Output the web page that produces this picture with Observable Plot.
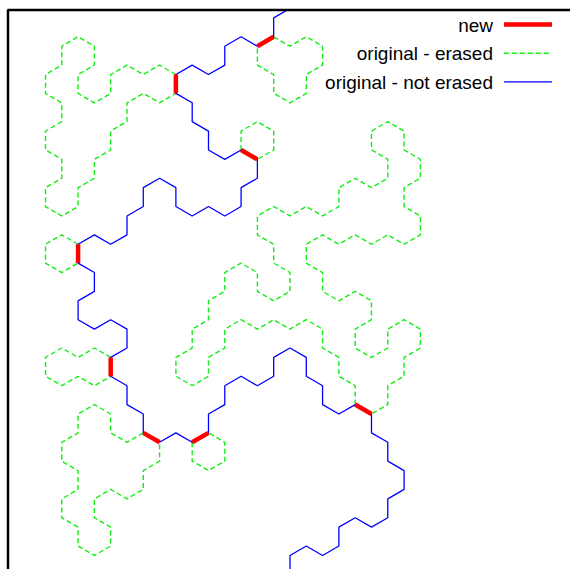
<!DOCTYPE html>
<html>
<head>
<meta charset="utf-8">
<script src="https://cdn.jsdelivr.net/npm/d3@7"></script>
<script src="https://cdn.jsdelivr.net/npm/@observablehq/plot@0.6"></script>
<style>
  html, body { margin: 0; padding: 0; background: #fff; }
  #wrap { position: relative; width: 570px; height: 569px; overflow: hidden; }
  #legend { position: absolute; left: 0; top: 0; pointer-events: none; }
</style>
</head>
<body>
<div id="wrap"></div>
<script>
// Honeycomb lattice coordinates: X = half hexagon width, Y = half edge length.
// New walk (blue, with new red edges inside it)
const newWalk = [[15,-3],[14,-2],[14,0],[13,1],[12,0],[11,1],[11,3],[10,4],[9,3],[8,4],[8,6],[9,7],[9,9],[10,10],[10,12],[11,13],[12,12],[13,13],[13,15],[12,16],[12,18],[11,19],[10,18],[9,19],[8,18],[8,16],[7,15],[6,16],[6,18],[5,19],[5,21],[4,22],[3,21],[2,22],[2,24],[3,25],[3,27],[2,28],[2,30],[3,31],[4,30],[5,31],[5,33],[4,34],[4,36],[5,37],[5,39],[6,40],[6,42],[7,43],[8,42],[9,43],[10,42],[10,40],[11,39],[11,37],[12,36],[13,37],[14,36],[14,34],[15,33],[16,34],[16,36],[17,37],[17,39],[18,40],[19,39],[20,40],[20,42],[21,43],[21,45],[22,46],[22,48],[21,49],[21,51],[20,52],[19,51],[18,52],[18,54],[17,55],[16,54],[15,55],[15,57]];

// New edges (red)
const newEdges = [[[14,0],[13,1]],[[8,4],[8,6]],[[12,12],[13,13]],[[2,22],[2,24]],[[4,34],[4,36]],[[6,42],[7,43]],[[9,43],[10,42]],[[19,39],[20,40]]];

// Erased loops of the original walk (green dashed)
const loopA = [[8,4],[7,3],[6,4],[5,3],[4,4],[4,6],[3,7],[2,6],[2,4],[3,3],[3,1],[2,0],[1,1],[1,3],[0,4],[0,6],[1,7],[1,9],[0,10],[0,12],[1,13],[1,15],[0,16],[0,18],[1,19],[2,18],[2,16],[3,15],[3,13],[4,12],[4,10],[5,9],[5,7],[6,6],[7,7],[8,6]];
const loopB = [[14,0],[15,1],[16,0],[17,1],[17,3],[16,4],[16,6],[15,7],[14,6],[14,4],[13,3],[13,1]];
const loopC = [[12,12],[12,10],[13,9],[14,10],[14,12],[13,13]];
const loopD = [[2,22],[1,21],[0,22],[0,24],[1,25],[2,24]];
const loopE = [[4,34],[3,33],[2,34],[1,33],[0,34],[0,36],[1,37],[2,36],[3,37],[4,36]];
const loopF = [[6,42],[5,43],[4,42],[4,40],[3,39],[2,40],[2,42],[1,43],[1,45],[2,46],[2,48],[1,49],[1,51],[2,52],[2,54],[3,55],[4,54],[4,52],[3,51],[3,49],[4,48],[5,49],[6,48],[6,46],[7,45],[7,43]];
const loopG = [[9,43],[9,45],[10,46],[11,45],[11,43],[10,42]];
const loopH = [[19,39],[19,37],[18,36],[18,34],[17,33],[17,31],[16,30],[15,31],[14,30],[13,31],[12,30],[11,31],[11,33],[10,34],[10,36],[9,37],[8,36],[8,34],[9,33],[9,31],[10,30],[10,28],[11,27],[11,25],[12,24],[13,25],[13,27],[14,28],[15,27],[15,25],[14,24],[14,22],[13,21],[13,19],[14,18],[15,19],[16,18],[17,19],[18,18],[18,16],[19,15],[20,16],[21,15],[21,13],[20,12],[20,10],[21,9],[22,10],[22,12],[23,13],[23,15],[22,16],[22,18],[23,19],[23,21],[22,22],[21,21],[20,22],[19,21],[18,22],[17,21],[16,22],[16,24],[17,25],[17,27],[18,28],[19,27],[20,28],[20,30],[19,31],[19,33],[20,34],[21,33],[21,31],[22,30],[23,31],[23,33],[22,34],[22,36],[21,37],[21,39],[20,40]];

const legendLabels = ["new", "original - erased", "original - not erased"];
const legendColors = ["#ff0000", "#11ee11", "#0000ff"];

const xDomain = [-2.30, 32.21];
const yDomain = [-2.84, 56.49];

const loops = {A: loopA, B: loopB, C: loopC, D: loopD, E: loopE, F: loopF, G: loopG, H: loopH};
const erasedRows = Object.entries(loops).flatMap(([k, pts]) => pts.map(([x, y]) => ({loop: k, x, y})));
const walkRows = newWalk.map(([x, y]) => ({x, y}));
const edgeRows = newEdges.map(([[x1, y1], [x2, y2]]) => ({x1, y1, x2, y2}));

const chart = Plot.plot({
  width: 570,
  height: 569,
  marginLeft: 7.5,
  marginTop: 9.5,
  marginRight: 0,
  marginBottom: 0,
  x: {domain: xDomain, axis: null},
  y: {domain: yDomain, reverse: true, axis: null},
  marks: [
    Plot.line(erasedRows, {x: "x", y: "y", z: "loop", stroke: legendColors[1], strokeWidth: 1.4,
      strokeDasharray: "5,3", strokeLinecap: "butt", strokeLinejoin: "miter", clip: true}),
    Plot.line(walkRows, {x: "x", y: "y", stroke: legendColors[2], strokeWidth: 1.3,
      strokeLinejoin: "miter", clip: true}),
    Plot.link(edgeRows, {x1: "x1", y1: "y1", x2: "x2", y2: "y2", stroke: legendColors[0],
      strokeWidth: 4.5, strokeLinecap: "butt", clip: true}),
    Plot.ruleX([xDomain[0]], {stroke: "black", strokeWidth: 2.5}),
    Plot.ruleY([yDomain[0]], {stroke: "black", strokeWidth: 2.5})
  ]
});

const wrap = document.getElementById("wrap");
wrap.appendChild(chart);

// Legend overlay (top-right, inside the frame)
const leg = d3.select(wrap).append("svg")
  .attr("id", "legend")
  .attr("width", 570).attr("height", 100);
const rows = leg.selectAll("g").data(legendLabels).join("g");
rows.append("text")
  .attr("x", 493)
  .attr("y", (d, i) => 31.5 + 28.7 * i)
  .attr("text-anchor", "end")
  .attr("font-family", "'Liberation Sans', Arial, Helvetica, sans-serif")
  .attr("font-size", 19)
  .attr("fill", "#000")
  .text(d => d);
rows.append("line")
  .attr("x1", 504).attr("x2", 552)
  .attr("y1", (d, i) => 24.5 + 28.7 * i)
  .attr("y2", (d, i) => 24.5 + 28.7 * i)
  .attr("stroke", (d, i) => legendColors[i])
  .attr("stroke-width", (d, i) => i === 0 ? 4.5 : (i === 1 ? 1.4 : 1.3))
  .attr("stroke-dasharray", (d, i) => i === 1 ? "5,3" : null);
</script>
</body>
</html>
